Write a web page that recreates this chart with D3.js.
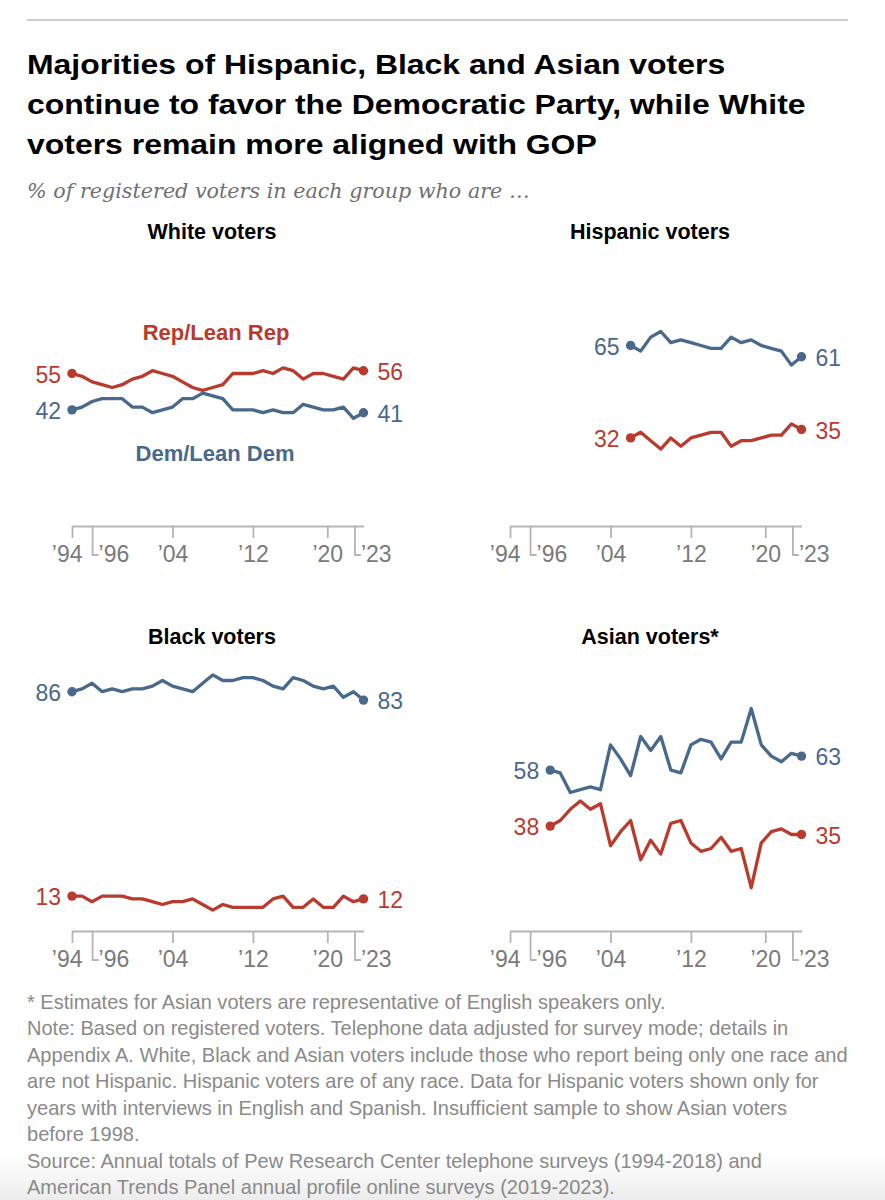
<!DOCTYPE html>
<html><head><meta charset="utf-8">
<script src="https://cdn.jsdelivr.net/npm/d3@7"></script>
<style>body{margin:0;background:#fff}svg{display:block}</style>
</head><body>
<svg id="chart" width="885" height="1200"></svg>
<script>
// ---------- text ----------
const titleLines = [
  "Majorities of Hispanic, Black and Asian voters",
  "continue to favor the Democratic Party, while White",
  "voters remain more aligned with GOP"
];
const subtitle = "% of registered voters in each group who are …";
const noteLines = [
  "* Estimates for Asian voters are representative of English speakers only.",
  "Note: Based on registered voters. Telephone data adjusted for survey mode; details in",
  "Appendix A. White, Black and Asian voters include those who report being only one race and",
  "are not Hispanic. Hispanic voters are of any race. Data for Hispanic voters shown only for",
  "years with interviews in English and Spanish. Insufficient sample to show Asian voters",
  "before 1998.",
  "Source: Annual totals of Pew Research Center telephone surveys (1994-2018) and",
  "American Trends Panel annual profile online surveys (2019-2023)."
];
const panelTitles = ["White voters", "Hispanic voters", "Black voters", "Asian voters*"];
const repLabel = "Rep/Lean Rep";
const demLabel = "Dem/Lean Dem";

// ---------- data ----------
const startYears = [1994, 2006, 1994, 1998];   // White, Hispanic, Black, Asian
const whiteDem = [42,43,45,46,46,46,43,43,41,42,43,46,46,48,47,46,42,42,42,41,42,41,41,44,43,42,42,43,39,41];
const whiteRep = [55,54,52,51,50,51,53,54,56,55,54,52,50,49,50,51,55,55,55,56,55,57,56,53,55,55,54,53,57,56];
const hispanicDem = [65,63,68,70,66,67,66,65,64,64,68,66,67,65,64,63,58,61];
const hispanicRep = [32,34,31,28,32,29,32,33,34,34,29,31,31,32,33,33,37,35];
const blackDem = [86,87,89,86,87,86,87,87,88,90,88,87,86,89,92,90,90,91,91,90,88,87,91,90,88,87,88,84,86,83];
const blackRep = [13,13,11,13,13,13,12,12,11,10,11,11,12,10,8,10,9,9,9,9,12,13,9,9,12,9,9,13,11,12];
const asianDem = [58,57,50,51,52,51,67,62,56,70,65,70,58,57,67,69,68,62,68,68,80,67,63,61,64,63];
const asianRep = [38,40,44,47,44,46,31,36,40,26,33,28,39,40,32,29,30,34,29,30,16,32,36,37,35,35];

const demSeries = [whiteDem, hispanicDem, blackDem, asianDem];
const repSeries = [whiteRep, hispanicRep, blackRep, asianRep];

// axis ticks (year position on the time scale, label, bracketed label)
const tickYears  = [1994, 1996, 2004, 2012, 2019.4, 2022.1];
const tickLabels = ["’94", "’96", "’04", "’12", "’20", "’23"];
const tickBracket = [false, true, false, false, false, true];

// ---------- style / layout ----------
const RED = "#b83b2e", BLUE = "#48698c", GRAY_AXIS = "#b5b5b5", GRAY_TXT = "#7a7a7a";
const SANS = "'Liberation Sans', Arial, sans-serif";
const panelLayout = [
  {left: 72,  axisY: 526},
  {left: 510, axisY: 526},
  {left: 72,  axisY: 931},
  {left: 510, axisY: 931}
];
const plotW = 291.5, plotH = 280;

const svg = d3.select("#chart");

// bottom shade
const defs = svg.append("defs");
const grad = defs.append("linearGradient").attr("id","shade").attr("x1",0).attr("x2",0).attr("y1",0).attr("y2",1);
grad.append("stop").attr("offset","0%").attr("stop-color","#ffffff");
grad.append("stop").attr("offset","100%").attr("stop-color","#ececec");
svg.append("rect").attr("x",0).attr("y",1155).attr("width",885).attr("height",45).attr("fill","url(#shade)");

// top rule
svg.append("line").attr("x1",27).attr("x2",848).attr("y1",20).attr("y2",20)
  .attr("stroke","#cfcfcf").attr("stroke-width",2);

function fitGroup(g, x0, target) {
  const w = g.node().getBBox().width;
  g.attr("transform", `translate(${x0},0) scale(${target / w},1)`);
}

// title
const tg = svg.append("g");
tg.selectAll("text").data(titleLines).join("text")
  .attr("x",0).attr("y",(d,i)=>74 + i*40)
  .attr("font-family",SANS).attr("font-weight","bold").attr("font-size",27.5).attr("fill","#000")
  .text(d=>d);
{
  const w2 = tg.selectAll("text").nodes()[1].getComputedTextLength();
  tg.attr("transform", `translate(27,0) scale(${779 / w2},1)`);
}

// subtitle
const sg = svg.append("g");
sg.append("text").attr("x",0).attr("y",198)
  .attr("font-family","'DejaVu Serif', Georgia, serif").attr("font-style","italic")
  .attr("font-size",20.5).attr("fill","#707070").text(subtitle);
fitGroup(sg, 27, 503);

// notes
const ng = svg.append("g");
ng.selectAll("text").data(noteLines).join("text")
  .attr("x",0).attr("y",(d,i)=>1009 + i*26.5)
  .attr("font-family",SANS).attr("font-size",21).attr("fill","#8a8a8a")
  .text(d=>d);
{
  const w3 = ng.selectAll("text").nodes()[2].getComputedTextLength();
  ng.attr("transform", `translate(27,0) scale(${821 / w3},1)`);
}

// panels
panelLayout.forEach((p, i) => {
  const x = d3.scaleLinear().domain([1994, 2023]).range([p.left, p.left + plotW]);
  const y = d3.scaleLinear().domain([0, 100]).range([p.axisY + 1.5, p.axisY + 1.5 - plotH]);
  const g = svg.append("g");

  // title
  g.append("text").attr("x", p.left + 140).attr("y", p.axisY - 287)
    .attr("text-anchor","middle").attr("font-family",SANS).attr("font-weight","bold")
    .attr("font-size",21.5).attr("fill","#000").text(panelTitles[i]);

  // axis
  const axis = d3.axisBottom(x).tickValues(tickYears).tickSize(12).tickSizeOuter(0)
    .tickFormat((d, k) => tickLabels[k]);
  const ag = g.append("g").attr("transform", `translate(0,${p.axisY})`).call(axis);
  ag.select(".domain").attr("stroke", GRAY_AXIS).attr("stroke-width", 1.8);
  ag.selectAll(".tick line").attr("stroke", GRAY_AXIS).attr("stroke-width", 1.8);
  ag.selectAll(".tick text")
    .attr("font-family", SANS).attr("font-size", 23).attr("fill", GRAY_TXT)
    .attr("dy", null).attr("y", 36)
    .attr("text-anchor", (d, k) => tickBracket[k] ? "start" : (k === 0 ? "end" : "middle"))
    .attr("x", (d, k) => tickBracket[k] ? 6 : (k === 0 ? 10 : 0));
  ag.selectAll(".tick").each(function(d, k) {
    if (!tickBracket[k]) return;
    const t = d3.select(this);
    t.select("line").remove();
    t.insert("path", "text").attr("d", "M0,0V29H6").attr("fill", "none")
      .attr("stroke", GRAY_AXIS).attr("stroke-width", 1.8);
  });

  // series
  const start = startYears[i];
  const toPts = arr => arr.map((v, k) => ({year: start + k, value: v}));
  const line = d3.line().x(d => x(d.year)).y(d => y(d.value));
  [[repSeries[i], RED], [demSeries[i], BLUE]].forEach(([arr, col]) => {
    const pts = toPts(arr);
    g.append("path").datum(pts).attr("d", line).attr("fill","none")
      .attr("stroke", col).attr("stroke-width", 3.3)
      .attr("stroke-linejoin","round").attr("stroke-linecap","round");
    const ends = [pts[0], pts[pts.length - 1]];
    g.selectAll(null).data(ends).join("circle")
      .attr("cx", d => x(d.year)).attr("cy", d => y(d.value)).attr("r", 4.7).attr("fill", col);
    g.selectAll(null).data(ends).join("text")
      .attr("x", (d, k) => k === 0 ? x(d.year) - 11 : x(d.year) + 14)
      .attr("y", d => y(d.value)).attr("dy", "0.4em")
      .attr("text-anchor", (d, k) => k === 0 ? "end" : "start")
      .attr("font-family", SANS).attr("font-size", 23).attr("fill", col)
      .text(d => d.value);
  });

  if (i === 0) {
    g.append("text").attr("x", p.left + 144).attr("y", p.axisY - 186)
      .attr("text-anchor","middle").attr("font-family",SANS).attr("font-weight","bold")
      .attr("font-size",22).attr("fill",RED).text(repLabel);
    g.append("text").attr("x", p.left + 143).attr("y", p.axisY - 65)
      .attr("text-anchor","middle").attr("font-family",SANS).attr("font-weight","bold")
      .attr("font-size",22).attr("fill",BLUE).text(demLabel);
  }
});
</script>
</body></html>
